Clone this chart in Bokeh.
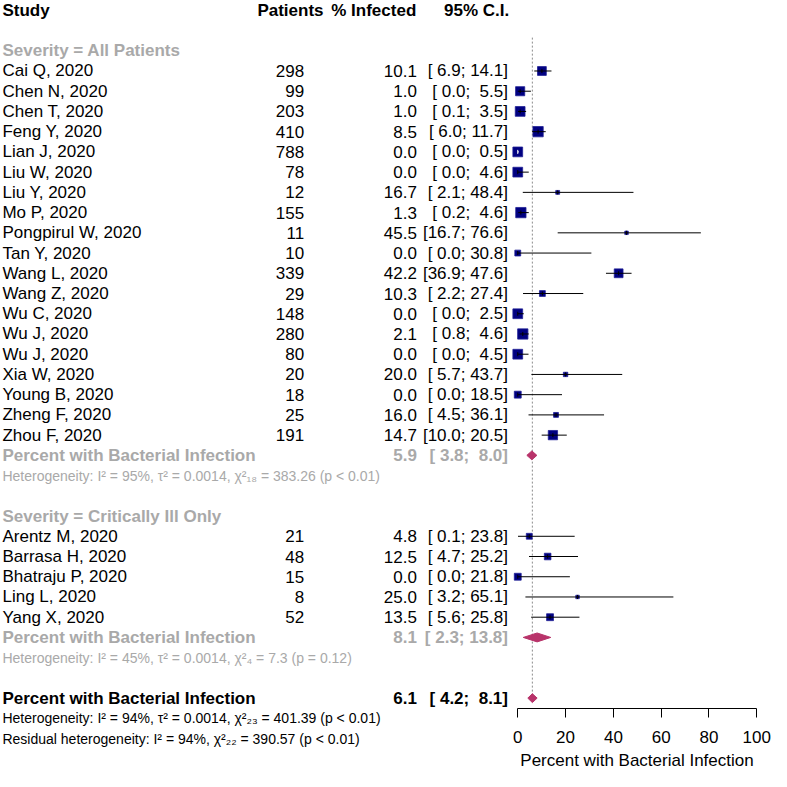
from bokeh.plotting import figure
from bokeh.models import ColumnDataSource, Range1d, LinearAxis, FixedTicker
from bokeh.core.properties import value
from bokeh.embed import file_html
from bokeh.resources import INLINE
import math

# ---------------- data ----------------
studies1 = ["Cai Q, 2020", "Chen N, 2020", "Chen T, 2020", "Feng Y, 2020", "Lian J, 2020",
            "Liu W, 2020", "Liu Y, 2020", "Mo P, 2020", "Pongpirul W, 2020", "Tan Y, 2020",
            "Wang L, 2020", "Wang Z, 2020", "Wu C, 2020", "Wu J, 2020", "Wu J, 2020",
            "Xia W, 2020", "Young B, 2020", "Zheng F, 2020", "Zhou F, 2020"]
patients1 = [298, 99, 203, 410, 788, 78, 12, 155, 11, 10, 339, 29, 148, 280, 80, 20, 18, 25, 191]
pct1 = [10.1, 1.0, 1.0, 8.5, 0.0, 0.0, 16.7, 1.3, 45.5, 0.0, 42.2, 10.3, 0.0, 2.1, 0.0, 20.0, 0.0, 16.0, 14.7]
lo1 = [6.9, 0.0, 0.1, 6.0, 0.0, 0.0, 2.1, 0.2, 16.7, 0.0, 36.9, 2.2, 0.0, 0.8, 0.0, 5.7, 0.0, 4.5, 10.0]
hi1 = [14.1, 5.5, 3.5, 11.7, 0.5, 4.6, 48.4, 4.6, 76.6, 30.8, 47.6, 27.4, 2.5, 4.6, 4.5, 43.7, 18.5, 36.1, 20.5]
weights1 = [5.2, 5.6, 6.4, 7.1, 6.4, 6.4, 1.0, 7.1, 0.8, 2.3, 5.2, 2.3, 6.4, 7.1, 6.4, 1.3, 3.2, 1.6, 5.8]

studies2 = ["Arentz M, 2020", "Barrasa H, 2020", "Bhatraju P, 2020", "Ling L, 2020", "Yang X, 2020"]
patients2 = [21, 48, 15, 8, 52]
pct2 = [4.8, 12.5, 0.0, 25.0, 13.5]
lo2 = [0.1, 4.7, 0.0, 3.2, 5.6]
hi2 = [23.8, 25.2, 21.8, 65.1, 25.8]
weights2 = [2.3, 2.9, 3.2, 0.8, 3.2]

summary1 = [5.9, 3.8, 8.0]
summary2 = [8.1, 2.3, 13.8]
overall = [6.1, 4.2, 8.1]

group_labels = ["Severity = All Patients", "Severity = Critically Ill Only"]
summary_label = "Percent with Bacterial Infection"
het1 = "Heterogeneity: I\u00b2 = 95%, \u03c4\u00b2 = 0.0014, \u03c7\u00b2\u2081\u2088 = 383.26 (p < 0.01)"
het2 = "Heterogeneity: I\u00b2 = 45%, \u03c4\u00b2 = 0.0014, \u03c7\u00b2\u2084 = 7.3 (p = 0.12)"
het_all = "Heterogeneity: I\u00b2 = 94%, \u03c4\u00b2 = 0.0014, \u03c7\u00b2\u2082\u2083 = 401.39 (p < 0.01)"
het_resid = "Residual heterogeneity: I\u00b2 = 94%, \u03c7\u00b2\u2082\u2082 = 390.57 (p < 0.01)"
headers = ["Study", "Patients", "% Infected", "95% C.I."]
axis_ticks = [0, 20, 40, 60, 80, 100]
axis_title = "Percent with Bacterial Infection"

# ---------------- layout ----------------
W = 771
H = 771
REF = 787.0
SCALE = W / REF
PXU = 2.44          # reference px per percent unit
X0 = 528.0          # reference x of 0 %
ROW0 = 10.0         # reference y of row 0
ROWH = 20.65        # reference row height
FONT = value("Liberation Sans")
GRAY = "#A9A9A9"
NAVY = "#000080"
DIAM = "#B8336A"
NB = "\u00a0"


def rx(ref_x):
    return (ref_x - X0) / PXU


X_STUDY = rx(2)
X_PAT = rx(310)
X_PAT_H = rx(296)
X_PCT = rx(425)
X_PCT_H = rx(381)
X_CI = rx(518)
X_CI_H = rx(486)

p = figure(width=W, height=H,
           x_range=Range1d(rx(0), rx(REF)),
           y_range=Range1d((REF - ROW0) / ROWH, (0 - ROW0) / ROWH),
           output_backend="svg", toolbar_location=None,
           x_axis_type=None, y_axis_type=None, min_border=0,
           outline_line_color=None)
p.background_fill_color = "white"
p.border_fill_color = "white"

rows_plain = dict(x=[], y=[], text=[], color=[], align=[], size=[])
rows_bold = dict(x=[], y=[], text=[], color=[], align=[], size=[])


def add(d, x, y, t, c, a, s="17px"):
    d["x"].append(x); d["y"].append(y); d["text"].append(t)
    d["color"].append(c); d["align"].append(a); d["size"].append(s)


def ci_text(lo, hi):
    return ("[%4.1f; %4.1f]" % (lo, hi)).replace(" ", NB)


# header
add(rows_bold, X_STUDY, 0, headers[0], "black", "left")
add(rows_bold, X_PAT_H, 0, headers[1], "black", "center")
add(rows_bold, X_PCT_H, 0, headers[2], "black", "center")
add(rows_bold, X_CI_H, 0, headers[3], "black", "center")

study_rows = []   # (k, est, lo, hi, weight)


def group(label, k0, studies, patients, pct, lo, hi, weights, summary, het):
    add(rows_bold, X_STUDY, k0, label, GRAY, "left")
    k = k0 + 1
    for s, n, e, l, h, w in zip(studies, patients, pct, lo, hi, weights):
        add(rows_plain, X_STUDY, k, s, "black", "left")
        add(rows_plain, X_PAT, k, str(n), "black", "right")
        add(rows_plain, X_PCT, k, "%.1f" % e, "black", "right")
        add(rows_plain, X_CI, k, ci_text(l, h), "black", "right")
        study_rows.append((k, e, l, h, w))
        k += 1
    add(rows_bold, X_STUDY, k, summary_label, GRAY, "left")
    add(rows_bold, X_PCT, k, "%.1f" % summary[0], GRAY, "right")
    add(rows_bold, X_CI, k, ci_text(summary[1], summary[2]), GRAY, "right")
    add(rows_plain, X_STUDY, k + 1, het, GRAY, "left", "14px")
    return k


ks1 = group(group_labels[0], 2, studies1, patients1, pct1, lo1, hi1, weights1, summary1, het1)
ks2 = group(group_labels[1], ks1 + 3, studies2, patients2, pct2, lo2, hi2, weights2, summary2, het2)
ko = ks2 + 3
add(rows_bold, X_STUDY, ko, summary_label, "black", "left")
add(rows_bold, X_PCT, ko, "%.1f" % overall[0], "black", "right")
add(rows_bold, X_CI, ko, ci_text(overall[1], overall[2]), "black", "right")
add(rows_plain, X_STUDY, ko + 1, het_all, "black", "left", "14px")
add(rows_plain, X_STUDY, ko + 2, het_resid, "black", "left", "14px")

for d, style in ((rows_plain, "normal"), (rows_bold, "bold")):
    src = ColumnDataSource(d)
    p.text(x="x", y="y", text="text", source=src, text_color="color",
           text_align="align", text_baseline="middle", text_font=FONT,
           text_font_size="size", text_font_style=style)

# reference (dotted) line at overall estimate
p.segment(x0=[overall[0]], y0=[1.35], x1=[overall[0]], y1=[ko + 0.2],
          line_color="#8C8C8C", line_dash="2 2", line_width=1)

# boxes
BOX_K = 3.94 * SCALE
px_per_unit = PXU * SCALE
bx, by, bs, lx0, lx1, ly, lc = [], [], [], [], [], [], []
for k, e, l, h, w in study_rows:
    side = BOX_K * math.sqrt(w)
    half = side / 2.0 / px_per_unit
    bx.append(e); by.append(k); bs.append(side)
    inside = (l >= e - half) and (h <= e + half)
    lx0.append(l); lx1.append(h); ly.append(k)
    lc.append("white" if inside else "black")

p.scatter(x=bx, y=by, size=bs, marker="square", fill_color=NAVY, line_color="#1F1F96", line_width=0.8)
p.segment(x0=lx0, y0=ly, x1=lx1, y1=ly, line_color=lc, line_width=1)
p.segment(x0=bx, y0=[k - 0.1 for k in by], x1=bx, y1=[k + 0.1 for k in by], line_color=lc, line_width=1)

# diamonds
DH = 0.22
dxs, dys = [], []
for k, (e, l, h) in ((ks1, summary1), (ks2, summary2), (ko, overall)):
    dxs.append([l, e, h, e]); dys.append([k, k - DH, k, k + DH])
p.patches(xs=dxs, ys=dys, fill_color=DIAM, line_color=DIAM, line_width=1)

# x axis
ax = LinearAxis(fixed_location=ko + 0.5, bounds=(0, 100), ticker=FixedTicker(ticks=axis_ticks),
                axis_label=axis_title)
ax.axis_line_color = "black"
ax.major_tick_line_color = "black"
ax.major_tick_out = 9
ax.major_tick_in = 0
ax.minor_tick_out = 0
ax.minor_tick_in = 0
ax.major_label_standoff = 14
ax.major_label_text_font = "Liberation Sans"
ax.major_label_text_font_size = "17px"
ax.major_label_text_color = "black"
ax.axis_label_text_font = "Liberation Sans"
ax.axis_label_text_font_size = "17px"
ax.axis_label_text_font_style = "normal"
ax.axis_label_text_color = "black"
ax.axis_label_standoff = 4
p.add_layout(ax, "below")

open("out.html", "w").write(file_html(p, INLINE))
